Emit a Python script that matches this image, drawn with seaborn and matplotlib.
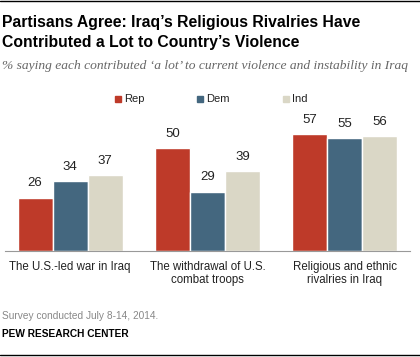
import matplotlib
matplotlib.use("Agg")
import matplotlib.pyplot as plt
import seaborn as sns
import pandas as pd

categories = ["The U.S.-led war in Iraq",
              "The withdrawal of U.S.\ncombat troops",
              "Religious and ethnic\nrivalries in Iraq"]
parties = ["Rep", "Dem", "Ind"]
rep = [26, 50, 57]
dem = [34, 29, 55]
ind = [37, 39, 56]

COLORS = {"Rep": "#BE3A29", "Dem": "#44677F", "Ind": "#DAD7C6"}

df = pd.DataFrame({
    "category": categories * 3,
    "party": ["Rep"] * 3 + ["Dem"] * 3 + ["Ind"] * 3,
    "value": rep + dem + ind,
})

sns.set_theme(style="white")
plt.rcParams["font.family"] = ["Liberation Sans", "DejaVu Sans"]

fig = plt.figure(figsize=(4.2, 3.57), dpi=100)
ax = fig.add_axes([5 / 420, 0.297, 405 / 420, 0.402])

sns.barplot(data=df, x="category", y="value", hue="party", order=categories,
            hue_order=parties, palette=COLORS, width=0.764, saturation=1,
            ax=ax, legend=False)
for c in ax.containers:
    ax.bar_label(c, padding=6, fontsize=9.5, color="#222222")

ax.set_xlim(-0.473, 2.473)
ax.set_ylim(0, 70)
ax.set_xlabel("")
ax.set_ylabel("")
ax.set_yticks([])
ax.tick_params(axis="x", length=0, pad=7, labelsize=8.3, colors="#222222")
for s in ["top", "right", "left"]:
    ax.spines[s].set_visible(False)
ax.spines["bottom"].set_color("#999999")
ax.spines["bottom"].set_linewidth(0.8)

# legend
for x, p in zip([115, 197, 283], parties):
    fig.patches.append(plt.Rectangle((x / 420, 1 - 102 / 357), 6 / 420, 6 / 357,
                                     transform=fig.transFigure, color=COLORS[p]))
    fig.text((x + 9) / 420, 1 - 99 / 357, p, fontsize=8, va="center", color="#222222")

fig.text(2 / 420, 1 - 22 / 357, "Partisans Agree: Iraq\u2019s Religious Rivalries Have",
         fontsize=11.3, fontweight="bold", va="center", color="black")
fig.text(2 / 420, 1 - 43 / 357, "Contributed a Lot to Country\u2019s Violence",
         fontsize=11.3, fontweight="bold", va="center", color="black")
fig.text(2 / 420, 1 - 66 / 357,
         "% saying each contributed \u2018a lot\u2019 to current violence and instability in Iraq",
         fontsize=9.7, fontstyle="italic", family="Liberation Serif", va="center", color="#666666")
fig.text(2 / 420, 1 - 316 / 357, "Survey conducted July 8-14, 2014.",
         fontsize=7.3, va="center", color="#888888")
fig.text(2 / 420, 1 - 334 / 357, "PEW RESEARCH CENTER",
         fontsize=7.3, fontweight="bold", va="center", color="black")

fig.add_artist(plt.Line2D([0, 1], [1 - 1 / 357, 1 - 1 / 357], color="black", lw=1))
fig.add_artist(plt.Line2D([0, 1], [1 - 355 / 357, 1 - 355 / 357], color="black", lw=1))

fig.savefig("out.png", dpi=100)
